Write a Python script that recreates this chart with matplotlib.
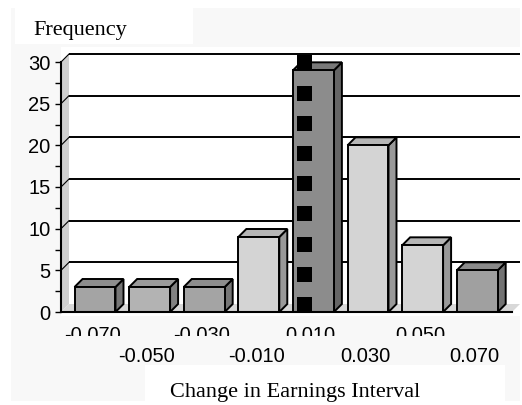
import matplotlib
matplotlib.use("Agg")
import matplotlib.pyplot as plt
import matplotlib.colors as mcolors
from matplotlib.patches import Polygon, Rectangle
from matplotlib.transforms import Bbox, TransformedBbox
import numpy as np

# Histogram of earnings changes
bins = ["-0.070", "-0.050", "-0.030", "-0.010", "0.010", "0.030", "0.050", "0.070"]
freq = [3, 3, 3, 9, 29, 20, 8, 5]
bar_colors = ["#a4a4a4", "#b3b3b3", "#a4a4a4", "#d4d4d4",
              "#8c8c8c", "#d4d4d4", "#d4d4d4", "#a0a0a0"]
y_ticks = [0, 5, 10, 15, 20, 25, 30]
highlight = 4  # bin drawn with the square pattern

W, H, DPI = 522, 405, 100
fig = plt.figure(figsize=(W / DPI, H / DPI), dpi=DPI, facecolor="white")

def fig_rect(x0, y0, x1, y1, color):
    """Rectangle given in pixel units measured from the top-left corner."""
    fig.patches.append(Rectangle((x0 / W, 1 - y1 / H), (x1 - x0) / W, (y1 - y0) / H,
                                 transform=fig.transFigure, facecolor=color,
                                 edgecolor="none", zorder=-10))

# panel background
fig_rect(11, 8, 520, 401, "#f8f8f8")
fig_rect(15, 8, 193, 44, "white")
fig_rect(61, 47, 520, 316, "white")
fig_rect(145, 365, 505, 401, "white")

x_left, x_right = -0.623, 7.637
ax_l, ax_b, ax_w, ax_h = 61 / W, (H - 312) / H, 451 / W, 250 / H
ax = fig.add_axes([ax_l, ax_b, ax_w, ax_h])
ax.set_facecolor("none")
ax.set_xlim(x_left, x_right)
ax.set_ylim(0, 30)

# depth of the 3D effect, converted from pixels to data units
depth_px = 8
dx = depth_px * (x_right - x_left) / (ax_w * W)
dy = depth_px * 30 / (ax_h * H)

lw_grid = 1.4
lw_edge = 1.4
# left wall and floor
ax.add_patch(Polygon([(x_left, 0), (x_left, 30), (x_left + dx, 30 + dy), (x_left + dx, dy)],
                     closed=True, facecolor="#d0d0d0", edgecolor="none",
                     clip_on=False, zorder=1))
ax.add_patch(Polygon([(x_left, 0), (x_right, 0), (x_right + dx, dy), (x_left + dx, dy)],
                     closed=True, facecolor="#d8d8d8", edgecolor="none",
                     clip_on=False, zorder=1))

# back-wall gridlines with the slanted segment across the left wall
for t in y_ticks[1:]:
    ax.plot([x_left + dx, x_right + dx], [t + dy, t + dy], color="black",
            lw=lw_grid, clip_on=False, zorder=2, solid_capstyle="butt")
    ax.plot([x_left, x_left + dx], [t, t + dy], color="black",
            lw=0.8, clip_on=False, zorder=2)

# 3D bars
bw = 0.75
for i, (v, c) in enumerate(zip(freq, bar_colors)):
    base = np.array(mcolors.to_rgb(c))
    top_c = base * 0.86
    side_c = base * 0.72
    x0, x1 = i - bw / 2, i + bw / 2
    ax.add_patch(Polygon([(x1, 0), (x1 + dx, dy), (x1 + dx, v + dy), (x1, v)],
                         closed=True, facecolor=side_c, edgecolor="black",
                         lw=lw_edge, clip_on=False, zorder=3, joinstyle="miter"))
    ax.add_patch(Polygon([(x0, v), (x1, v), (x1 + dx, v + dy), (x0 + dx, v + dy)],
                         closed=True, facecolor=top_c, edgecolor="black",
                         lw=lw_edge, clip_on=False, zorder=3, joinstyle="miter"))
    ax.bar(i, v, width=bw, color=c, edgecolor="black", linewidth=lw_edge,
           zorder=4, clip_on=False)

# square pattern on the highlighted bin
sq_w = 15 * (x_right - x_left) / (ax_w * W)
sq_h = 15 * 30 / (ax_h * H)
period = 30.2 * 30 / (ax_h * H)
inset = 4 * (x_right - x_left) / (ax_w * W)
n_sq = int(freq[highlight] // period) + 1
for k in range(n_sq):
    ax.add_patch(Rectangle((highlight - bw / 2 + inset, k * period), sq_w, sq_h,
                           facecolor="black", edgecolor="none",
                           clip_on=False, zorder=5))

# axes lines and ticks
for s in ["top", "right"]:
    ax.spines[s].set_visible(False)
ax.spines["left"].set_linewidth(1.5)
ax.spines["bottom"].set_linewidth(1.5)
ax.spines["bottom"].set_bounds(x_left, x_right)
ax.spines["left"].set_zorder(6)
ax.spines["bottom"].set_zorder(6)
ax.set_yticks(y_ticks)
ax.set_yticks(np.arange(2.5, 30, 5), minor=True)
ax.tick_params(axis="y", which="both", direction="out", length=4.5, width=1,
               labelsize=14.5, pad=3)
ax.tick_params(axis="y", which="minor", length=4)
for lab in ax.get_yticklabels():
    lab.set_fontfamily("Liberation Sans")
ax.set_xticks([])

# staggered interval labels; the upper row is cut off by the frame below the plot
clip = TransformedBbox(Bbox([[0, (H - 336) / H], [1, 1]]), fig.transFigure)
for i, lab in enumerate(bins):
    row_y = -0.116 if i % 2 == 0 else -0.2
    t = ax.text(i - 0.05, row_y, lab, transform=ax.get_xaxis_transform(),
                ha="center", va="baseline", fontsize=14.5,
                family="Liberation Sans", clip_on=False)
    if i % 2 == 0:
        t.set_clip_box(clip)
        t.set_clip_on(True)

fig.text(80 / W, 1 - 31 / H, "Frequency", ha="center", va="center",
         fontsize=16, family="Liberation Serif")
fig.text(295 / W, 1 - 392 / H, "Change in Earnings Interval", ha="center",
         va="center", fontsize=16, family="Liberation Serif")

fig.savefig("out.png", dpi=DPI, facecolor="white")
